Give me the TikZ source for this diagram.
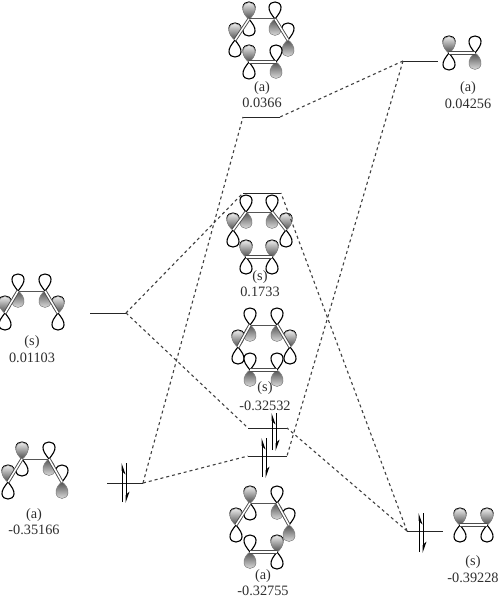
\documentclass[tikz,border=0pt]{standalone}
\usepackage{fontspec}
\setmainfont{Liberation Serif}
\usetikzlibrary{arrows.meta}
\definecolor{mogray}{HTML}{555555}
\definecolor{motext}{HTML}{2E2E2E}
\tikzset{
  lobeline/.style={draw=black, line width=1.1pt, fill=white},
  lobeshade/.style={draw=black!50, line width=0.5pt, shade, top color=black!8, bottom color=black!70},
  lobedark/.style={draw=black!50, line width=0.5pt, shade, top color=black!68, bottom color=black!14},
  plainlobe/.pic={\draw[lobeline] (0,0) .. controls (-3,-4) and (-6.5,-8) .. (-6,-12) .. controls (-5.6,-15.5) and (-3,-17) .. (0,-17) .. controls (3,-17) and (5.6,-15.5) .. (6,-12) .. controls (6.5,-8) and (3,-4) .. (0,0);},
  greylobe/.pic={\draw[lobeshade] (0,0) .. controls (-3.5,-2) and (-6.6,-7) .. (-6,-11) .. controls (-5.6,-14.5) and (-3,-16.5) .. (0,-16.5) .. controls (3,-16.5) and (5.6,-14.5) .. (6,-11) .. controls (6.6,-7) and (3.5,-2) .. (0,0);},
  darklobe/.pic={\draw[lobedark] (0,0) .. controls (-3.5,-2) and (-6.6,-7) .. (-6,-11) .. controls (-5.6,-14.5) and (-3,-16.5) .. (0,-16.5) .. controls (3,-16.5) and (5.6,-14.5) .. (6,-11) .. controls (6.6,-7) and (3.5,-2) .. (0,0);},
  upgrey/.pic={\pic {plainlobe}; \pic[yscale=-1] {plainlobe}; \pic {greylobe};},
  downgrey/.pic={\pic {plainlobe}; \pic[yscale=-1] {darklobe};},
  singlebond/.style={draw=mogray, line width=1pt},
  doublebond/.style={draw=black!70, line width=0.9pt, double=white, double distance=1.5pt},
  levelline/.style={draw=black!85, line width=0.9pt},
  corrline/.style={draw=black!75, line width=1.1pt, dash pattern=on 3pt off 3pt},
  spinup/.style={draw=black, line width=1pt, -{Stealth[right, length=10pt, width=7pt]}},
  spindown/.style={draw=black, line width=1pt, -{Stealth[left, length=10pt, width=7pt]}},
  motxt/.style={text=motext, font=\fontsize{14.3}{15}\selectfont, inner sep=0pt}
}

\begin{document}
\begin{tikzpicture}[x=1pt, y=-1pt]
  \useasboundingbox (0,0) rectangle (501,599);

  % fragment and complex orbitals
  \foreach \name/\xpos/\ypos/\lobes in {
    ma1/249/19/upgrey, ma2/275/19/downgrey, ma3/235/40/upgrey, ma4/288/40/downgrey, ma5/249/62/upgrey, ma6/276/62/downgrey,
    ms1/246/212/downgrey, ms2/272/212/downgrey, ms3/233/230/upgrey, ms4/286/230/upgrey, ms5/246/257/upgrey, ms6/272/257/upgrey,
    mt1/250/325/downgrey, mt2/277/325/downgrey, mt3/238/347/upgrey, mt4/290/347/upgrey, mt5/250/370/downgrey, mt6/277/370/downgrey,
    mb1/250/503/upgrey, mb2/277/503/downgrey, mb3/236/525/upgrey, mb4/289/525/downgrey, mb5/250/552/downgrey, mb6/277/552/upgrey,
    ls1/18/291/downgrey, ls2/45/291/downgrey, ls3/5/313/upgrey, ls4/58/313/upgrey,
    la1/22/459/upgrey, la2/49/459/downgrey, la3/8/482/upgrey, la4/62/482/downgrey,
    ra1/449/53/upgrey, ra2/475/53/downgrey,
    rs1/460/525/upgrey, rs2/487/525/upgrey}
  {
    \coordinate (\name) at (\xpos,\ypos);
    \pic at (\name) {\lobes};
  }

  % bonds
  \foreach \atoma/\atomb in {ma1/ma2, ms1/ms2, mt1/mt2, mb1/mb2, ls1/ls2, la1/la2}
    \draw[singlebond] (\atoma) -- (\atomb);
  \foreach \atoma/\atomb in {ma1/ma3, ma2/ma4, ma5/ma6, ms1/ms3, ms2/ms4, ms5/ms6, mt1/mt3, mt2/mt4, mt5/mt6,
    mb1/mb3, mb2/mb4, mb5/mb6, ls1/ls3, ls2/ls4, la1/la3, la2/la4, ra1/ra2, rs1/rs2}
    \draw[doublebond] (\atoma) -- (\atomb);

  % labels
  \node[motxt] (lblma) at (262,88) {(a)};
  \node[motxt] (valma) at (262,103) {0.0366};
  \node[motxt] (lblms) at (260,277) {(s)};
  \node[motxt] (valms) at (260,292) {0.1733};
  \node[motxt] (lblmt) at (265,388) {(s)};
  \node[motxt] (valmt) at (265,406) {-0.32532};
  \node[motxt] (lblmb) at (263,576) {(a)};
  \node[motxt] (valmb) at (263,591) {-0.32755};
  \node[motxt] (lblls) at (32,342) {(s)};
  \node[motxt] (valls) at (32,358) {0.01103};
  \node[motxt] (lblla) at (34,515) {(a)};
  \node[motxt] (valla) at (34,530) {-0.35166};
  \node[motxt] (lblra) at (468,88) {(a)};
  \node[motxt] (valra) at (468,104) {0.04256};
  \node[motxt] (lblrs) at (473,562) {(s)};
  \node[motxt] (valrs) at (473,578) {-0.39228};

  % energy levels
  \coordinate (lvla1) at (243,117);  \coordinate (lvla2) at (280,117);
  \coordinate (lvls1) at (243,193);  \coordinate (lvls2) at (281,193);
  \coordinate (lvlt1) at (248,428);  \coordinate (lvlt2) at (287,428);
  \coordinate (lvlb1) at (248,456);  \coordinate (lvlb2) at (287,456);
  \coordinate (lvll1) at (90,313);   \coordinate (lvll2) at (126,313);
  \coordinate (lvlk1) at (107,483);  \coordinate (lvlk2) at (143,483);
  \coordinate (lvlr1) at (403,61);   \coordinate (lvlr2) at (438,61);
  \coordinate (lvlq1) at (407,531);  \coordinate (lvlq2) at (443,531);
  \foreach \lvl in {a,s,t,b,l,k,r,q}
    \draw[levelline] (lvl\lvl1) -- (lvl\lvl2);

  % correlation lines
  \draw[corrline] (lvll2) -- (lvls1);
  \draw[corrline] (lvll2) -- (lvlt1);
  \draw[corrline] (lvlk2) -- (lvla1);
  \draw[corrline] (lvlk2) -- (lvlb1);
  \draw[corrline] (lvlr1) -- (lvla2);
  \draw[corrline] (lvlr1) -- (lvlb2);
  \draw[corrline] (lvlq1) -- (lvls2);
  \draw[corrline] (lvlq1) -- (lvlt2);

  % electron pairs
  \coordinate (upt1) at (272,450);  \coordinate (upt2) at (272,413);
  \coordinate (dnt1) at (276,413);  \coordinate (dnt2) at (276,451);
  \coordinate (upb1) at (262,477);  \coordinate (upb2) at (262,438);
  \coordinate (dnb1) at (266,438);  \coordinate (dnb2) at (266,478);
  \coordinate (upk1) at (122,502);  \coordinate (upk2) at (122,463);
  \coordinate (dnk1) at (126,463);  \coordinate (dnk2) at (126,503);
  \coordinate (upq1) at (419,552);  \coordinate (upq2) at (419,513);
  \coordinate (dnq1) at (423,513);  \coordinate (dnq2) at (423,553);
  \foreach \pair in {t,b,k,q} {
    \draw[spinup] (up\pair1) -- (up\pair2);
    \draw[spindown] (dn\pair1) -- (dn\pair2);
  }
\end{tikzpicture}
\end{document}
